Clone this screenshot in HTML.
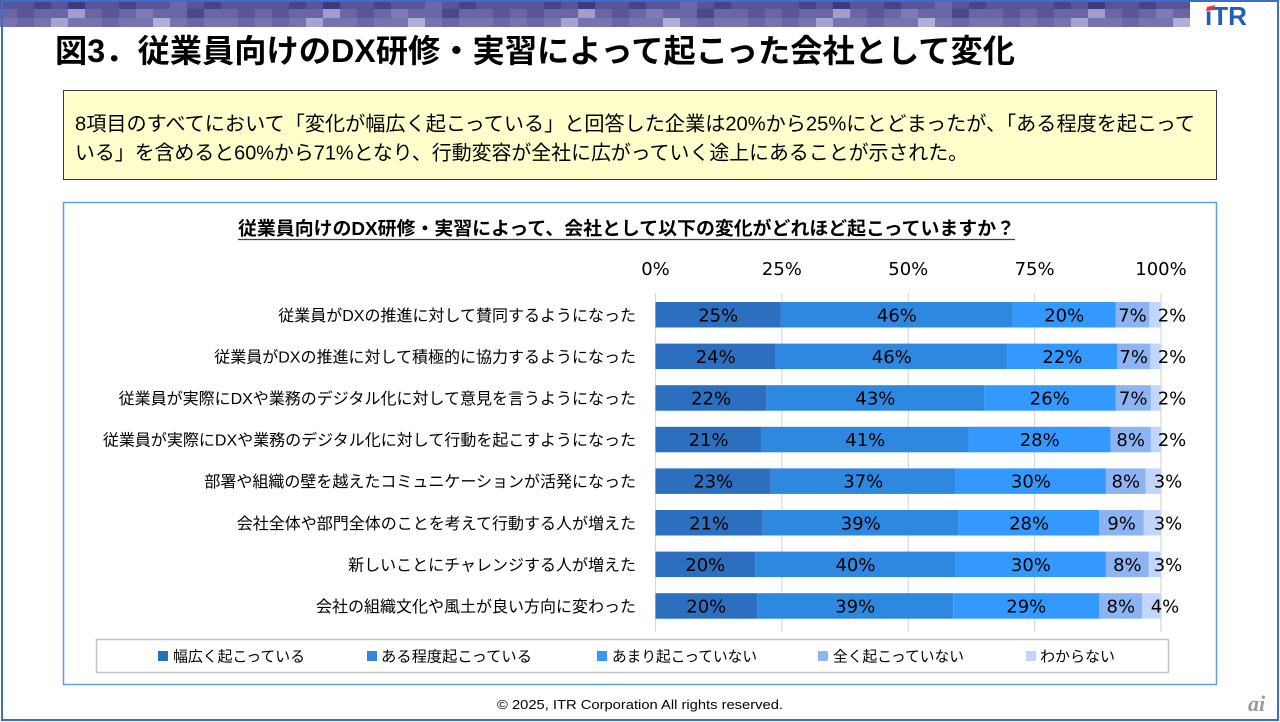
<!DOCTYPE html>
<html><head><meta charset="utf-8"><style>
html,body{margin:0;padding:0;background:#fff;width:1280px;height:722px;overflow:hidden}
svg{display:block}
text{font-family:"Liberation Sans","Noto Sans CJK JP",sans-serif;fill:#000}
.n text{font-family:"DejaVu Sans","Noto Sans CJK JP",sans-serif;font-size:18px}
.c text{font-size:16px}
.l{font-size:15px}
</style></head><body>
<svg width="1280" height="722" viewBox="0 0 1280 722" xmlns="http://www.w3.org/2000/svg">
<defs>
<pattern id="mz" x="0" y="0" width="255" height="27" patternUnits="userSpaceOnUse">
<rect x="0" y="0" width="255" height="9" fill="#58549a"/>
<rect x="34" y="0" width="17" height="9" fill="#47428a"/>
<rect x="68" y="0" width="17" height="9" fill="#3d3880"/>
<rect x="119" y="0" width="17" height="9" fill="#47428a"/>
<rect x="170" y="0" width="17" height="9" fill="#6c68a7"/>
<rect x="204" y="0" width="17" height="9" fill="#47428a"/>
<rect x="0" y="9" width="255" height="9" fill="#6a66a5"/>
<rect x="17" y="9" width="17" height="9" fill="#5a5699"/>
<rect x="68" y="9" width="17" height="9" fill="#a19ecf"/>
<rect x="102" y="9" width="17" height="9" fill="#5a5699"/>
<rect x="136" y="9" width="17" height="9" fill="#7e7ab5"/>
<rect x="187" y="9" width="17" height="9" fill="#4c488e"/>
<rect x="238" y="9" width="17" height="9" fill="#5a5699"/>
<rect x="0" y="18" width="255" height="9" fill="#7773ae"/>
<rect x="17" y="18" width="17" height="9" fill="#6a66a5"/>
<rect x="51" y="18" width="17" height="9" fill="#a6a3d2"/>
<rect x="102" y="18" width="17" height="9" fill="#6a66a5"/>
<rect x="153" y="18" width="17" height="9" fill="#b1aed8"/>
<rect x="187" y="18" width="17" height="9" fill="#6a66a5"/>
<rect x="238" y="18" width="17" height="9" fill="#6a66a5"/>
</pattern>
</defs>

<!-- banner -->
<rect x="0" y="0" width="1190" height="27" fill="url(#mz)"/>

<!-- frame -->
<rect x="2" y="1" width="1276" height="719" fill="none" stroke="#3d6cc9" stroke-width="2"/>

<!-- logo -->
<text x="1205" y="25" font-size="26" font-weight="bold" style="fill:#1f5fb8;font-family:'Liberation Sans',sans-serif">ıTR</text>
<polygon points="1207,7 1215,5 1214,10 1206,11" fill="#e8323c"/>

<!-- title -->
<text x="55" y="62" font-size="32" font-weight="bold" textLength="960" lengthAdjust="spacingAndGlyphs">図3．従業員向けのDX研修・実習によって起こった会社として変化</text>

<!-- yellow box -->
<rect x="63.5" y="90.5" width="1153" height="89" fill="#ffffcc" stroke="#3a3a3a" stroke-width="1"/>
<text x="75" y="130.5" font-size="20" textLength="1120" lengthAdjust="spacingAndGlyphs">8項目のすべてにおいて「変化が幅広く起こっている」と回答した企業は20%から25%にとどまったが、「ある程度を起こって</text>
<text x="75" y="159.5" font-size="20" textLength="893" lengthAdjust="spacingAndGlyphs">いる」を含めると60%から71%となり、行動変容が全社に広がっていく途上にあることが示された。</text>

<!-- chart box -->
<rect x="63.5" y="202.5" width="1153" height="482" fill="#fff" stroke="#5f9ff0" stroke-width="1.5"/>
<text x="238" y="235" font-size="18.5" font-weight="bold" textLength="777" lengthAdjust="spacingAndGlyphs">従業員向けのDX研修・実習によって、会社として以下の変化がどれほど起こっていますか？</text>
<line x1="238" y1="239.5" x2="1015" y2="239.5" stroke="#404040" stroke-width="1.2"/>

<!-- axis labels -->
<g class="n" text-anchor="middle">
<text x="655.5" y="275">0%</text>
<text x="781.9" y="275">25%</text>
<text x="908.3" y="275">50%</text>
<text x="1034.6" y="275">75%</text>
<text x="1161" y="275">100%</text>
</g>

<!-- gridlines -->
<g stroke="#d9d9d9" stroke-width="1.2">
<line x1="655.5" y1="293" x2="655.5" y2="632"/>
<line x1="781.9" y1="293" x2="781.9" y2="632"/>
<line x1="908.3" y1="293" x2="908.3" y2="632"/>
<line x1="1034.6" y1="293" x2="1034.6" y2="632"/>
<line x1="1161" y1="293" x2="1161" y2="632"/>
</g>

<!-- bars -->
<g>
<rect x="655.5" y="302" width="125.4" height="25.5" fill="#2c6fbe"/>
<rect x="780.9" y="302" width="232" height="25.5" fill="#2e88e0"/>
<rect x="1012.9" y="302" width="102.6" height="25.5" fill="#3399ff"/>
<rect x="1115.5" y="302" width="33.9" height="25.5" fill="#8cb3f2"/>
<rect x="1149.4" y="302" width="11.6" height="25.5" fill="#c2d6fb"/>

<rect x="655.5" y="343.6" width="120.3" height="25.5" fill="#2c6fbe"/>
<rect x="775.8" y="343.6" width="232" height="25.5" fill="#2e88e0"/>
<rect x="1007.8" y="343.6" width="109.2" height="25.5" fill="#3399ff"/>
<rect x="1117" y="343.6" width="33.4" height="25.5" fill="#8cb3f2"/>
<rect x="1150.4" y="343.6" width="10.6" height="25.5" fill="#c2d6fb"/>

<rect x="655.5" y="385.2" width="111.2" height="25.5" fill="#2c6fbe"/>
<rect x="766.7" y="385.2" width="217.4" height="25.5" fill="#2e88e0"/>
<rect x="984.1" y="385.2" width="131.4" height="25.5" fill="#3399ff"/>
<rect x="1115.5" y="385.2" width="35.4" height="25.5" fill="#8cb3f2"/>
<rect x="1150.9" y="385.2" width="10.1" height="25.5" fill="#c2d6fb"/>

<rect x="655.5" y="426.8" width="106.2" height="25.5" fill="#2c6fbe"/>
<rect x="761.7" y="426.8" width="207.2" height="25.5" fill="#2e88e0"/>
<rect x="968.9" y="426.8" width="141.6" height="25.5" fill="#3399ff"/>
<rect x="1110.5" y="426.8" width="40.4" height="25.5" fill="#8cb3f2"/>
<rect x="1150.9" y="426.8" width="10.1" height="25.5" fill="#c2d6fb"/>

<rect x="655.5" y="468.4" width="115.3" height="25.5" fill="#2c6fbe"/>
<rect x="770.8" y="468.4" width="185" height="25.5" fill="#2e88e0"/>
<rect x="955.8" y="468.4" width="150.1" height="25.5" fill="#3399ff"/>
<rect x="1105.9" y="468.4" width="39.8" height="25.5" fill="#8cb3f2"/>
<rect x="1145.7" y="468.4" width="15.3" height="25.5" fill="#c2d6fb"/>

<rect x="655.5" y="510" width="107.2" height="25.5" fill="#2c6fbe"/>
<rect x="762.7" y="510" width="196.1" height="25.5" fill="#2e88e0"/>
<rect x="958.8" y="510" width="140.5" height="25.5" fill="#3399ff"/>
<rect x="1099.3" y="510" width="44.5" height="25.5" fill="#8cb3f2"/>
<rect x="1143.8" y="510" width="17.2" height="25.5" fill="#c2d6fb"/>

<rect x="655.5" y="551.6" width="99.6" height="25.5" fill="#2c6fbe"/>
<rect x="755.1" y="551.6" width="200.7" height="25.5" fill="#2e88e0"/>
<rect x="955.8" y="551.6" width="150.1" height="25.5" fill="#3399ff"/>
<rect x="1105.9" y="551.6" width="42.9" height="25.5" fill="#8cb3f2"/>
<rect x="1148.8" y="551.6" width="12.2" height="25.5" fill="#c2d6fb"/>

<rect x="655.5" y="593.2" width="101.6" height="25.5" fill="#2c6fbe"/>
<rect x="757.1" y="593.2" width="196.1" height="25.5" fill="#2e88e0"/>
<rect x="953.2" y="593.2" width="146.1" height="25.5" fill="#3399ff"/>
<rect x="1099.3" y="593.2" width="43" height="25.5" fill="#8cb3f2"/>
<rect x="1142.3" y="593.2" width="18.7" height="25.5" fill="#c2d6fb"/>
</g>

<!-- data labels -->
<g class="n" text-anchor="middle">
<text x="718.2" y="321.3">25%</text><text x="896.9" y="321.3">46%</text><text x="1064.2" y="321.3">20%</text><text x="1132.5" y="321.3">7%</text><text x="1172" y="321.3">2%</text>
<text x="715.7" y="362.9">24%</text><text x="891.8" y="362.9">46%</text><text x="1062.4" y="362.9">22%</text><text x="1133.7" y="362.9">7%</text><text x="1172" y="362.9">2%</text>
<text x="711.1" y="404.5">22%</text><text x="875.4" y="404.5">43%</text><text x="1049.8" y="404.5">26%</text><text x="1133.2" y="404.5">7%</text><text x="1172" y="404.5">2%</text>
<text x="708.6" y="446.1">21%</text><text x="865.3" y="446.1">41%</text><text x="1039.7" y="446.1">28%</text><text x="1130.7" y="446.1">8%</text><text x="1172" y="446.1">2%</text>
<text x="713.2" y="487.7">23%</text><text x="863.3" y="487.7">37%</text><text x="1030.9" y="487.7">30%</text><text x="1125.8" y="487.7">8%</text><text x="1168" y="487.7">3%</text>
<text x="709.1" y="529.3">21%</text><text x="860.8" y="529.3">39%</text><text x="1029.1" y="529.3">28%</text><text x="1121.6" y="529.3">9%</text><text x="1168" y="529.3">3%</text>
<text x="705.3" y="570.9">20%</text><text x="855.5" y="570.9">40%</text><text x="1030.9" y="570.9">30%</text><text x="1127.4" y="570.9">8%</text><text x="1168" y="570.9">3%</text>
<text x="706.3" y="612.5">20%</text><text x="855.2" y="612.5">39%</text><text x="1026.3" y="612.5">29%</text><text x="1120.8" y="612.5">8%</text><text x="1165" y="612.5">4%</text>
</g>

<!-- category labels -->
<g class="c" text-anchor="end">
<text x="636" y="320.8">従業員がDXの推進に対して賛同するようになった</text>
<text x="636" y="362.4">従業員がDXの推進に対して積極的に協力するようになった</text>
<text x="636" y="404">従業員が実際にDXや業務のデジタル化に対して意見を言うようになった</text>
<text x="636" y="445.6">従業員が実際にDXや業務のデジタル化に対して行動を起こすようになった</text>
<text x="636" y="487.2">部署や組織の壁を越えたコミュニケーションが活発になった</text>
<text x="636" y="528.8">会社全体や部門全体のことを考えて行動する人が増えた</text>
<text x="636" y="570.4">新しいことにチャレンジする人が増えた</text>
<text x="636" y="612">会社の組織文化や風土が良い方向に変わった</text>
</g>

<!-- legend -->
<rect x="96.5" y="639.5" width="1072" height="33" fill="#fff" stroke="#c6c6c6" stroke-width="1.5"/>
<rect x="158" y="651" width="10" height="10" fill="#2c6fbe"/>
<text class="l" x="173" y="661.5" textLength="132" lengthAdjust="spacingAndGlyphs">幅広く起こっている</text>
<rect x="367" y="651" width="10" height="10" fill="#2e88e0"/>
<text class="l" x="381" y="661.5" textLength="151" lengthAdjust="spacingAndGlyphs">ある程度起こっている</text>
<rect x="597" y="651" width="10" height="10" fill="#3399ff"/>
<text class="l" x="612" y="661.5" textLength="145" lengthAdjust="spacingAndGlyphs">あまり起こっていない</text>
<rect x="818" y="651" width="10" height="10" fill="#8cb3f2"/>
<text class="l" x="833" y="661.5" textLength="131" lengthAdjust="spacingAndGlyphs">全く起こっていない</text>
<rect x="1026" y="651" width="10" height="10" fill="#c2d6fb"/>
<text class="l" x="1040" y="661.5" textLength="75" lengthAdjust="spacingAndGlyphs">わからない</text>

<!-- footer -->
<text x="640" y="709" font-size="13" text-anchor="middle" textLength="286" lengthAdjust="spacingAndGlyphs">© 2025, ITR Corporation  All rights reserved.</text>
<text x="1248" y="711" font-size="22" font-weight="bold" font-style="italic" style="fill:#9a9a9a;font-family:'Liberation Serif',serif">ai</text>
</svg>
</body></html>
